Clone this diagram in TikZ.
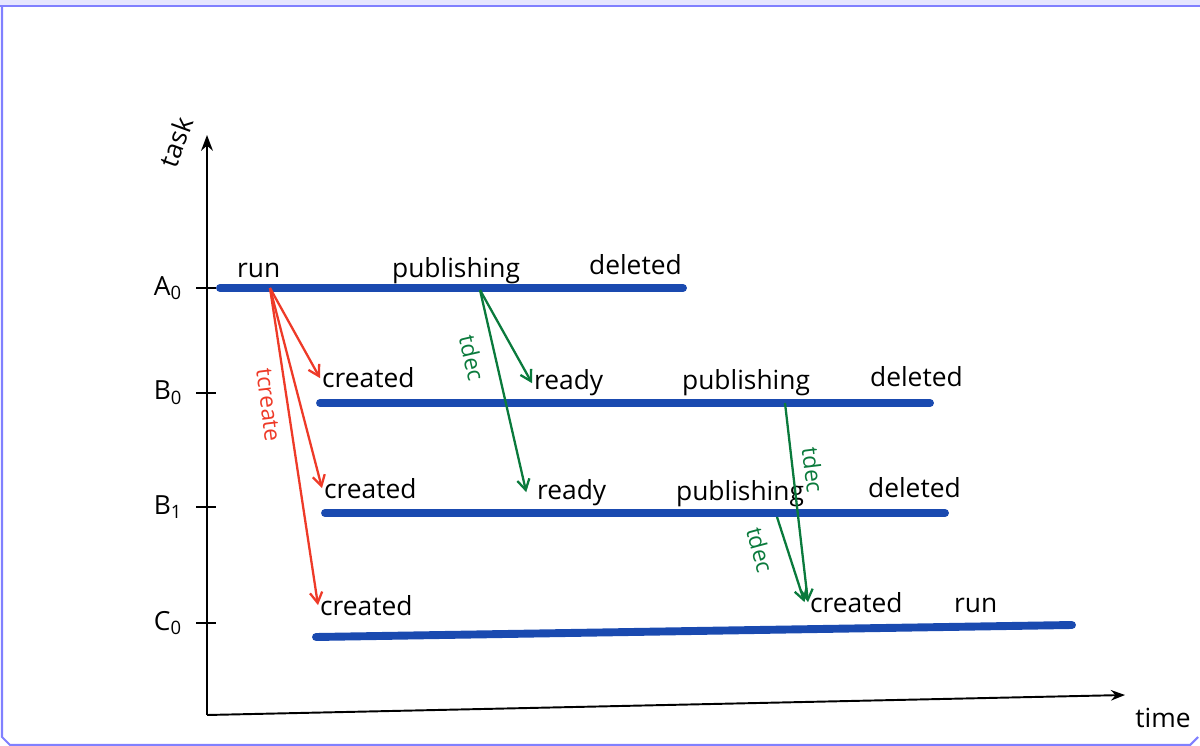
\documentclass[tikz,border=0pt]{standalone}
\usepackage{fontspec}
\setmainfont{Open Sans}
\usetikzlibrary{arrows.meta}

\definecolor{barblue}{RGB}{26,74,176}
\definecolor{mkred}{RGB}{238,58,40}
\definecolor{decgreen}{RGB}{10,122,60}
\definecolor{framebar}{RGB}{230,230,255}
\definecolor{frameline}{RGB}{128,128,255}

\begin{document}
\begin{tikzpicture}[x=0.02cm, y=-0.02cm,
    lifeline/.style={line width=4.5pt, barblue, line cap=round},
    state/.style={anchor=base west, inner sep=1pt, font=\fontsize{15}{18}\selectfont},
    axtick/.style={line width=1.1pt},
    mk/.style={-{Straight Barb[length=6pt,width=7pt]}, mkred, line width=1.3pt},
    dec/.style={-{Straight Barb[length=6pt,width=7pt]}, decgreen, line width=1.3pt},
    note/.style={inner sep=1pt, font=\fontsize{13}{15}\selectfont}]
    \useasboundingbox (0,0) rectangle (1200,746);

    % window frame
    \fill[framebar] (0,0) rectangle (1200,5);
    \draw[frameline, line width=1.2pt] (0,6) -- (1200,6);
    \draw[frameline, line width=1.2pt] (2,6) -- (2,737) -- (10,745) -- (1190,745) -- (1198,737);

    % axes
    \coordinate (O) at (207,715);
    \draw[-{Stealth[length=9pt]}, line width=1.1pt] (O) -- (207,135) coordinate (ytop);
    \draw[-{Stealth[length=8pt]}, line width=1.1pt] (O) -- (1125,695) coordinate (xend);
    \node[rotate=70, font=\fontsize{15}{18}\selectfont] (task) at (176,142) {task};
    \node[font=\fontsize{15}{18}\selectfont] (time) at (1163,718) {time};

    \foreach \n/\l/\s/\y in {a0/A/0/288, b0/B/0/393, b1/B/1/507, c0/C/0/623} {
        \node[font=\fontsize{15}{18}\selectfont] (\n) at (168,\y) {\l\textsubscript{\s}};
        \draw[axtick] (196,\y) -- (216,\y);
    }

    % life of each task
    \draw[lifeline] (220,288) -- (683,288);
    \draw[lifeline] (320,403) -- (930,403);
    \draw[lifeline] (325,513) -- (945,513);
    \draw[lifeline] (316,637) -- (1072,625);

    \node[state] (runA) at (235,278) {run};
    \node[state] (pubA) at (390,278) {publishing};
    \node[state] (delA) at (587,275) {deleted};

    \node[state] (crB0) at (320,388) {created};
    \node[state] (rdB0) at (532,390) {ready};
    \node[state] (pubB0) at (680,390) {publishing};
    \node[state] (delB0) at (868,387) {deleted};

    \node[state] (crB1) at (322,498) {created};
    \node[state] (rdB1) at (535,499) {ready};
    \node[state] (pubB1) at (674,500) {publishing};
    \node[state] (delB1) at (866,497) {deleted};

    \node[state] (crC0) at (318,615) {created};
    \node[state] (crC0b) at (808,612) {created};
    \node[state] (runC0) at (952,612) {run};

    % tcreate
    \coordinate (spawn) at (270,288);
    \draw[mk] (spawn) -- (crB0.west);
    \draw[mk] (spawn) -- (crB1.west);
    \draw[mk] (spawn) -- (crC0.west);
    \node[note, mkred, rotate=-83] at (268,405) {tcreate};

    % tdec
    \coordinate (relA) at (480,290);
    \coordinate (relB0) at (785,403);
    \coordinate (relB1) at (777,517);
    \draw[dec] (relA) -- (rdB0.west);
    \draw[dec] (relA) -- ([xshift=-5pt]rdB1.west);
    \draw[dec] (relB0) -- (crC0b.west);
    \draw[dec] (relB1) -- ([xshift=-2pt]crC0b.west);
    \node[note, decgreen, rotate=-77] at (472,358) {tdec};
    \node[note, decgreen, rotate=-83] at (813,470) {tdec};
    \node[note, decgreen, rotate=-75] at (760,550) {tdec};
\end{tikzpicture}
\end{document}
